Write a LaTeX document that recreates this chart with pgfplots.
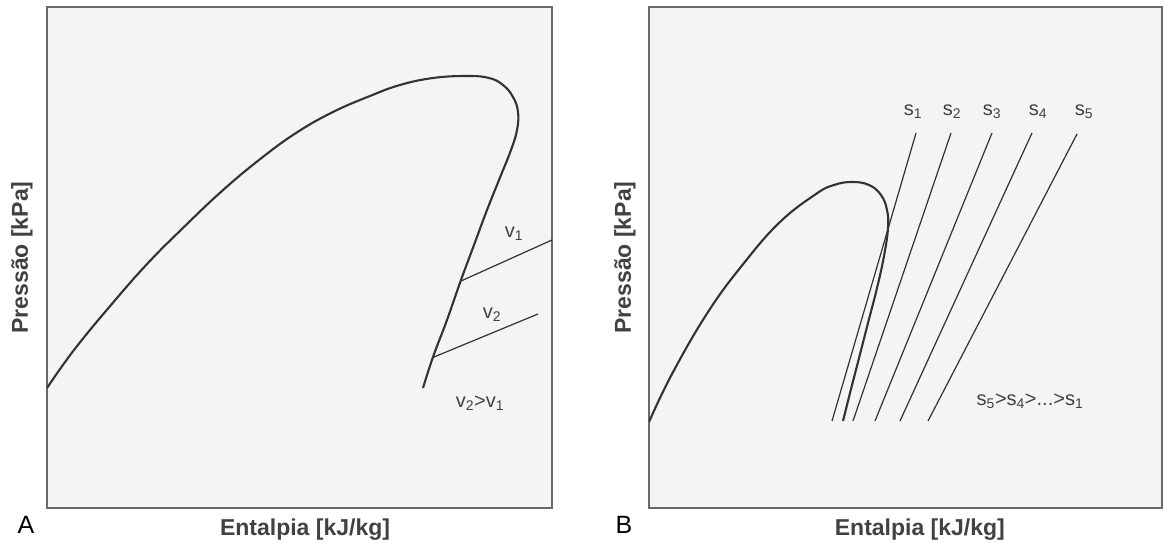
\documentclass[border=0pt]{standalone}
\usepackage{pgfplots}
\pgfplotsset{compat=1.18}
\usepackage{fontspec}
\setmainfont{Liberation Sans}
\definecolor{bg}{RGB}{244,244,242}
\definecolor{ink}{RGB}{50,50,50}
\definecolor{txt}{RGB}{65,65,65}
\definecolor{frame}{RGB}{105,105,105}
\begin{document}
\begin{tikzpicture}[x=1pt,y=1pt]
\path[use as bounding box] (0,0) rectangle (1164,543);
\pgfplotsset{panel/.style={scale only axis, xmin=0, ymin=0, ymax=501, height=501pt,
  xtick=\empty, ytick=\empty,
  axis background/.style={fill=bg},
  axis line style={draw=frame, line width=1.4pt},
  anchor=south west,
  xlabel={Entalpia [kJ/kg]}, ylabel={Pressão [kPa]},
  label style={font=\fontsize{23}{27}\selectfont\bfseries, text=txt},
  dome/.style={ink, line width=2.1pt, smooth, tension=0.7, no marks},
  thin/.style={ink, line width=1.2pt, no marks}}}
% ---------------- Panel A ----------------
\begin{axis}[panel, at={(47,35)}, width=505pt, xmax=505,
  xlabel style={at={(axis description cs:0.511,-0.044)}, anchor=center},
  ylabel style={at={(axis description cs:-0.0495,0.5)}, anchor=center}]
\addplot[dome] coordinates {(0,120) (27,158) (64,203) (101,245) (138,282) (175,317) (212,348) (249,375) (286,396) (323,412) (353,423) (386,430) (420,432) (442,430) (456,423) (466,411) (471,396) (470,378) (464,358) (452,328) (440,298) (427,263) (414,228) (400,188) (386,151) (376,120)};
\addplot[thin] coordinates {(414,227) (505,268)};
\addplot[thin] coordinates {(387,151) (491,194)};
\node[font=\fontsize{20}{24}\selectfont, text=txt] at (axis cs:467,274) {v\textsubscript{1}};
\node[font=\fontsize{20}{24}\selectfont, text=txt] at (axis cs:445,193) {v\textsubscript{2}};
\node[font=\fontsize{20}{24}\selectfont, text=txt] at (axis cs:433,105) {v\textsubscript{2}>v\textsubscript{1}};
\end{axis}
% ---------------- Panel B ----------------
\begin{axis}[panel, at={(649,35)}, width=513pt, xmax=513,
  xlabel style={at={(axis description cs:0.528,-0.044)}, anchor=center},
  ylabel style={at={(axis description cs:-0.0468,0.5)}, anchor=center}]
\addplot[dome] coordinates {(0,86) (23,134) (59,196) (95,245) (131,286) (167,314) (185,323) (203,326) (220,323) (232,313) (238,298) (239,280) (235,252) (228,220) (219,185) (209,146) (201,115) (194,87)};
\addplot[thin] coordinates {(267,375) (183,87)};
\addplot[thin] coordinates {(302,375) (204,87)};
\addplot[thin] coordinates {(343,375) (226,87)};
\addplot[thin] coordinates {(383,375) (251,87)};
\addplot[thin] coordinates {(428,374) (279,87)};
\node[font=\fontsize{20}{24}\selectfont, text=txt] at (axis cs:264,396) {s\textsubscript{1}};
\node[font=\fontsize{20}{24}\selectfont, text=txt] at (axis cs:303,396) {s\textsubscript{2}};
\node[font=\fontsize{20}{24}\selectfont, text=txt] at (axis cs:343,396) {s\textsubscript{3}};
\node[font=\fontsize{20}{24}\selectfont, text=txt] at (axis cs:389,396) {s\textsubscript{4}};
\node[font=\fontsize{20}{24}\selectfont, text=txt] at (axis cs:435,396) {s\textsubscript{5}};
\node[font=\fontsize{20}{24}\selectfont, text=txt] at (axis cs:381,107) {s\textsubscript{5}>s\textsubscript{4}>...>s\textsubscript{1}};
\end{axis}
\node[font=\fontsize{25}{29}\selectfont, text=black] at (26,18) {A};
\node[font=\fontsize{25}{29}\selectfont, text=black] at (624,18) {B};
\end{tikzpicture}
\end{document}
